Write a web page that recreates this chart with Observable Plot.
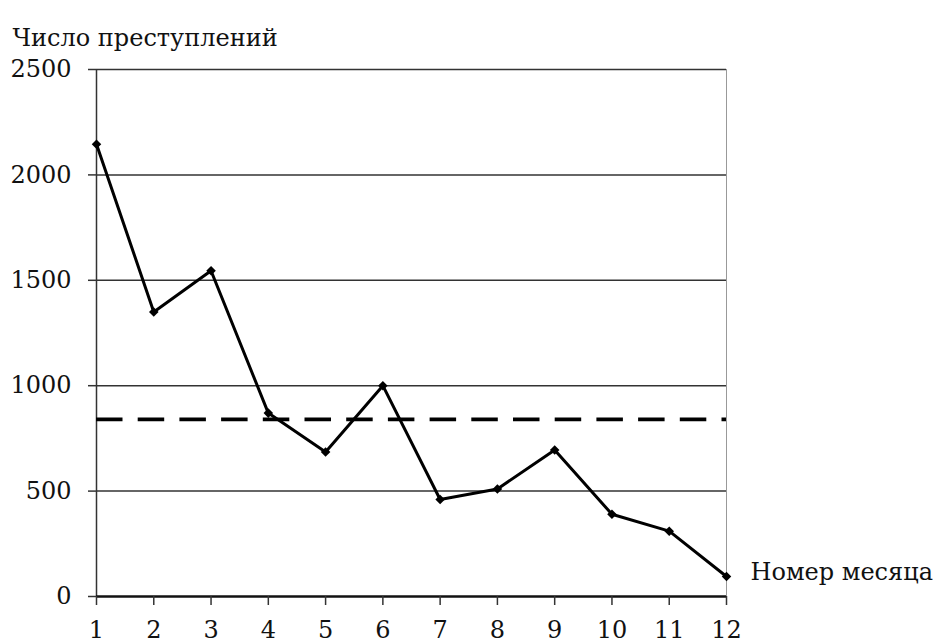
<!DOCTYPE html>
<html>
<head>
<meta charset="utf-8">
<script src="https://cdn.jsdelivr.net/npm/d3@7"></script>
<script src="https://cdn.jsdelivr.net/npm/@observablehq/plot@0.6"></script>
<style>
  html, body { margin: 0; padding: 0; background: #fff; }
</style>
</head>
<body>
<div id="chart"></div>
<script>
const months = [1, 2, 3, 4, 5, 6, 7, 8, 9, 10, 11, 12];
const crimes = [2145, 1350, 1545, 870, 685, 1000, 460, 510, 695, 390, 310, 95];
const yTicks = [0, 500, 1000, 1500, 2000, 2500];
const gridValues = [500, 1000, 1500, 2000, 2500];
const dashedLevel = [840];
const yTitle = "Число преступлений";
const xTitle = "Номер месяца";
const FONT = "DejaVu Serif";

const data = months.map((m, i) => ({month: m, value: crimes[i]}));

const chart = Plot.plot({
  width: 933,
  height: 644,
  marginLeft: 96,
  marginRight: 207,
  marginTop: 69,
  marginBottom: 48,
  style: `font-family: '${FONT}'; font-size: 24px; color: #111; background: #fff;`,
  x: {domain: [1, 12]},
  y: {domain: [0, 2500]},
  marks: [
    Plot.frame({stroke: "#999", strokeWidth: 1}),
    Plot.ruleY(gridValues, {stroke: "#333", strokeWidth: 1.5}),
    Plot.ruleX([months[0]], {stroke: "#333", strokeWidth: 1.5}),
    Plot.ruleY(dashedLevel, {stroke: "#000", strokeWidth: 3.8, strokeDasharray: "26.5,15.2"}),
    Plot.ruleY([0], {stroke: "#111", strokeWidth: 2.5}),
    Plot.line(data, {x: "month", y: "value", stroke: "#000", strokeWidth: 3}),
    Plot.dot(data, {x: "month", y: "value", symbol: "diamond2", r: 4.3, fill: "#000", stroke: "none"}),
    Plot.axisY({ticks: yTicks, tickSize: 8, tickPadding: 17, tickFormat: d => String(d), label: null, stroke: "#333", strokeWidth: 1.5, fontFamily: FONT, fontSize: 24}),
    Plot.axisX({ticks: months, tickSize: 9, tickPadding: 15, tickFormat: d => String(d), label: null, stroke: "#333", strokeWidth: 1.5, fontFamily: FONT, fontSize: 24}),
    Plot.text([yTitle], {frameAnchor: "top-left", dx: -84, dy: -41, textAnchor: "start", fontSize: 24, fontFamily: FONT, fill: "#111"}),
    Plot.text([xTitle], {frameAnchor: "bottom-right", dx: 24, dy: -17, textAnchor: "start", fontSize: 24, fontFamily: FONT, fill: "#111"})
  ]
});
document.getElementById("chart").appendChild(chart);
</script>
</body>
</html>
